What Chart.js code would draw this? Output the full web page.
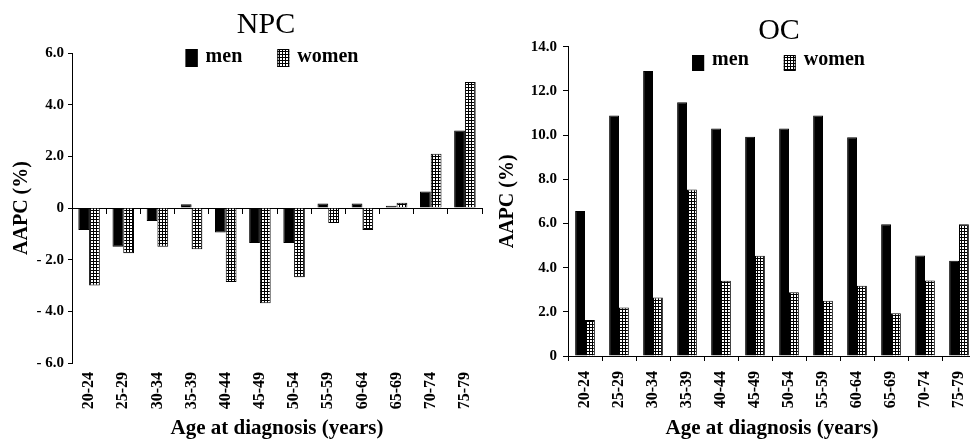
<!DOCTYPE html>
<html>
<head>
<meta charset="utf-8">
<script src="https://cdn.jsdelivr.net/npm/chart.js@4"></script>
<style>
html, body { margin: 0; padding: 0; overflow: hidden; background: #fff; }
body { width: 970px; height: 439px; position: relative; }
.box { position: absolute; top: 0; height: 445px; }
#npcBox { left: 0; width: 532px; }
#ocBox { left: 490px; width: 578px; }
</style>
</head>
<body>
<div class="box" id="npcBox"><canvas id="npcChart"></canvas></div>
<div class="box" id="ocBox"><canvas id="ocChart"></canvas></div>
<script>
// ===============================
// DATA
// ===============================

const ageGroups = ['20-24', '25-29', '30-34', '35-39', '40-44', '45-49',
                   '50-54', '55-59', '60-64', '65-69', '70-74', '75-79'];

const seriesNames = ['men', 'women'];

const npcMen   = [-0.85, -1.5, -0.5, 0.15, -0.95, -1.35, -1.35, 0.17, 0.17, 0.09, 0.64, 3.0];
const npcWomen = [-3.0, -1.75, -1.5, -1.6, -2.86, -3.69, -2.68, -0.58, -0.85, 0.2, 2.1, 4.88];

const ocMen   = [6.56, 10.89, 12.9, 11.48, 10.3, 9.92, 10.3, 10.89, 9.9, 5.96, 4.55, 4.31];
const ocWomen = [1.63, 2.19, 2.65, 7.54, 3.41, 4.54, 2.88, 2.5, 3.18, 1.93, 3.42, 5.96];

const npcTicks      = [-6, -4, -2, 0, 2, 4, 6];
const npcTickLabels = ['- 6.0', '- 4.0', '- 2.0', '0', '2.0', '4.0', '6.0'];

const ocTicks      = [0, 2, 4, 6, 8, 10, 12, 14];
const ocTickLabels = ['0', '2.0', '4.0', '6.0', '8.0', '10.0', '12.0', '14.0'];

const SERIF = '"Liberation Serif", "Times New Roman", serif';

// ===============================
// GRID FILL FOR WOMEN BARS
// ===============================

function gridPattern(canvas) {
    const tile = document.createElement('canvas');
    tile.width = 3;
    tile.height = 3;
    const g = tile.getContext('2d');
    g.fillStyle = '#fff';
    g.fillRect(0, 0, 3, 3);
    g.fillStyle = '#000';
    g.fillRect(0, 0, 3, 1);
    g.fillRect(0, 0, 1, 3);
    return canvas.getContext('2d').createPattern(tile, 'repeat');
}

// ===============================
// LEGEND INSIDE THE PLOT
// ===============================

const innerLegend = {
    id: 'innerLegend',
    afterDraw(chart, args, o) {
        const ctx = chart.ctx;
        ctx.save();
        ctx.font = 'bold ' + o.size + 'px ' + SERIF;
        ctx.textBaseline = 'middle';
        ctx.textAlign = 'left';

        const items = chart.data.datasets.map(ds => ({
            text: ds.label,
            fill: ds.backgroundColor,
            w: ctx.measureText(ds.label).width
        }));

        let total = 0;
        items.forEach((it, i) => {
            total += o.box + o.gap + it.w + (i ? o.spacing : 0);
        });

        let x = o.centerX - total / 2;
        items.forEach(it => {
            ctx.fillStyle = it.fill;
            ctx.fillRect(x, o.boxTop, o.box, o.boxH);
            ctx.strokeStyle = '#000';
            ctx.lineWidth = 1;
            ctx.strokeRect(x + 0.5, o.boxTop + 0.5, o.box - 1, o.boxH - 1);
            ctx.fillStyle = '#000';
            ctx.fillText(it.text, x + o.box + o.gap, o.y);
            x += o.box + o.gap + it.w + o.spacing;
        });
        ctx.restore();
    }
};

// ===============================
// CHART BUILDER
// ===============================

function buildChart(id, opt) {

    const canvas = document.getElementById(id);
    const H = 445;

    return new Chart(canvas, {
        type: 'bar',
        data: {
            labels: ageGroups,
            datasets: [
                {
                    label: seriesNames[0],
                    data: opt.men,
                    backgroundColor: '#000',
                    borderColor: '#000',
                    borderWidth: 1,
                    categoryPercentage: opt.catPct,
                    barPercentage: 1
                },
                {
                    label: seriesNames[1],
                    data: opt.women,
                    backgroundColor: gridPattern(canvas),
                    borderColor: '#000',
                    borderWidth: 1,
                    categoryPercentage: opt.catPct,
                    barPercentage: 1
                }
            ]
        },
        plugins: [innerLegend],
        options: {
            responsive: true,
            maintainAspectRatio: false,
            animation: false,
            layout: { padding: 0 },
            plugins: {
                legend: { display: false },
                tooltip: { enabled: false },
                title: {
                    display: true,
                    text: opt.title,
                    color: '#000',
                    font: { family: SERIF, size: 30, weight: 'normal', lineHeight: 1 },
                    padding: opt.titlePad
                },
                innerLegend: opt.legend
            },
            scales: Object.assign({
                x: {
                    type: 'category',
                    position: 'bottom',
                    offset: true,
                    grid: opt.xGrid,
                    border: opt.xBorder,
                    ticks: {
                        autoSkip: false,
                        minRotation: 90,
                        maxRotation: 90,
                        padding: opt.xTickPad,
                        color: '#000',
                        font: { family: SERIF, size: 16, weight: 'bold' }
                    },
                    title: {
                        display: true,
                        text: 'Age at diagnosis (years)',
                        color: '#000',
                        font: { family: SERIF, size: 21, weight: 'bold', lineHeight: 1.2 },
                        padding: { top: 0, bottom: 3.5 }
                    },
                    afterFit(s) { s.height = H - opt.plotBottom; }
                },
                y: {
                    type: 'linear',
                    position: 'left',
                    min: opt.ticks[0],
                    max: opt.ticks[opt.ticks.length - 1],
                    afterBuildTicks(s) { s.ticks = opt.ticks.map(v => ({ value: v })); },
                    grid: { drawOnChartArea: false, tickLength: opt.yTickLen, color: '#000' },
                    border: { color: '#000', width: 1 },
                    ticks: {
                        padding: opt.yTickPad,
                        color: '#000',
                        font: { family: SERIF, size: 15, weight: 'bold' },
                        callback: v => opt.tickLabels[opt.ticks.indexOf(v)]
                    },
                    title: {
                        display: true,
                        text: 'AAPC (%)',
                        color: '#000',
                        font: { family: SERIF, size: 20, weight: 'bold', lineHeight: 1.2 },
                        padding: { top: opt.yTitlePad, bottom: 0 }
                    },
                    afterFit(s) { s.width = opt.yWidth; }
                },
                pad: {
                    type: 'linear',
                    axis: 'y',
                    position: 'right',
                    grid: { display: false, drawTicks: false },
                    border: { display: false },
                    ticks: { display: false },
                    afterFit(s) { s.width = opt.rightPad; }
                }
            }, opt.extraScales)
        }
    });
}

// ===============================
// NPC (LEFT)
// ===============================

buildChart('npcChart', {
    title: 'NPC',
    titlePad: { top: 9.9, bottom: 13.1 },
    men: npcMen,
    women: npcWomen,
    ticks: npcTicks,
    tickLabels: npcTickLabels,
    catPct: 0.63,
    plotBottom: 363,
    xGrid: { display: false, drawTicks: false },
    xBorder: { display: false },
    xTickPad: 9,
    yTickLen: 4,
    yTickPad: 4,
    yTitlePad: 10,
    yWidth: 72,
    rightPad: 50,
    legend: { centerX: 272, y: 56.5, boxTop: 49, boxH: 18, size: 20, box: 12, gap: 8, spacing: 35 },
    extraScales: {
        xz: {
            type: 'category',
            axis: 'x',
            position: { y: 0 },
            offset: true,
            grid: { offset: true, drawOnChartArea: false, tickLength: 5, color: '#000' },
            border: { display: true, color: '#000', width: 1 },
            ticks: { display: false }
        }
    }
});

// ===============================
// OC (RIGHT)
// ===============================

buildChart('ocChart', {
    title: 'OC',
    titlePad: { top: 16.6, bottom: 0.1 },
    men: ocMen,
    women: ocWomen,
    ticks: ocTicks,
    tickLabels: ocTickLabels,
    catPct: 0.58,
    plotBottom: 356,
    xGrid: { offset: true, drawOnChartArea: false, tickLength: 5, color: '#000' },
    xBorder: { display: true, color: '#000', width: 1 },
    xTickPad: 10,
    yTickLen: 5,
    yTickPad: 6,
    yTitlePad: 6,
    yWidth: 78,
    rightPad: 92,
    legend: { centerX: 288.5, y: 60, boxTop: 55, boxH: 16, size: 20, box: 12, gap: 8, spacing: 35 },
    extraScales: {}
});
</script>
</body>
</html>
